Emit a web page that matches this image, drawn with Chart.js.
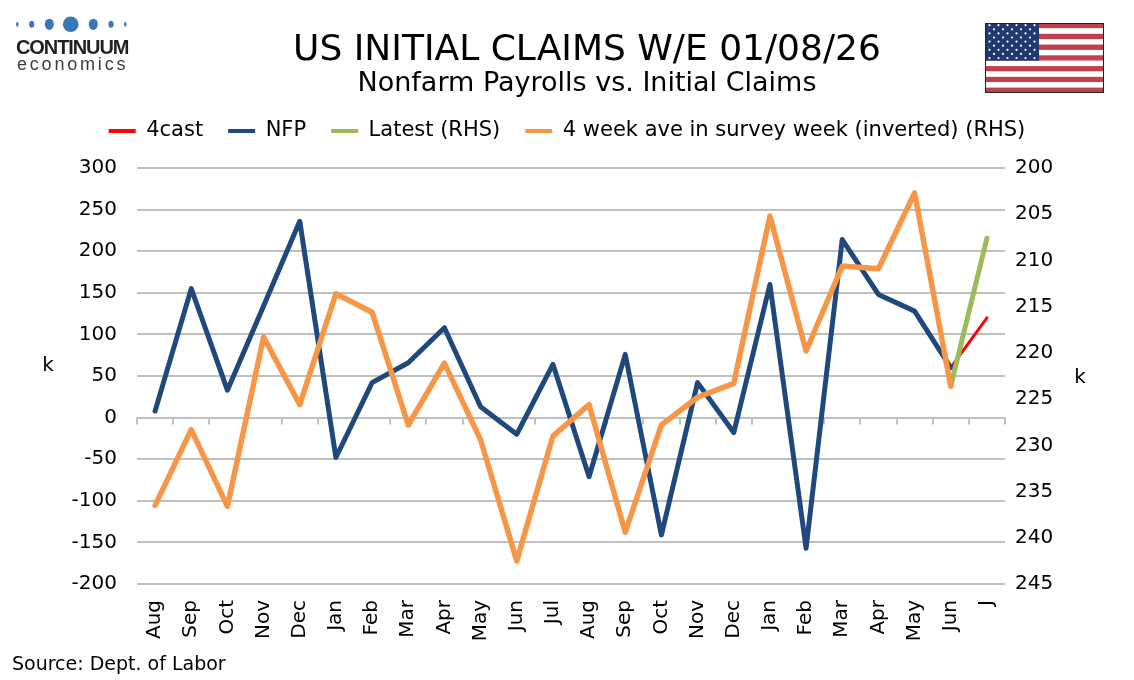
<!DOCTYPE html>
<html>
<head>
<meta charset="utf-8">
<title>US Initial Claims W/E 01/08/26</title>
<script src="https://cdn.jsdelivr.net/npm/chart.js@4.4.1/dist/chart.umd.min.js"></script>
<style>
  html, body { margin: 0; padding: 0; background: #fff; }
  #wrap { position: relative; width: 1134px; height: 680px; overflow: hidden; font-family: 'DejaVu Sans', sans-serif; color: #000; }
  #chart { position: absolute; left: 0; top: 0; }
  .title { position: absolute; left: 40px; width: 1094px; top: 26px; text-align: center; font-size: 36px; line-height: 44px; white-space: nowrap; }
  .subtitle { position: absolute; left: 40px; width: 1094px; top: 66px; text-align: center; font-size: 27px; line-height: 32px; white-space: nowrap; }
  .logo-name { position: absolute; left: 16px; top: 37px; font-family: 'Liberation Sans', Arial, sans-serif; font-weight: bold; font-size: 20px; line-height: 20px; letter-spacing: -1.1px; color: #231f20; }
  .logo-sub { position: absolute; left: 17px; top: 55px; font-family: 'Liberation Sans', Arial, sans-serif; font-size: 18px; line-height: 18px; letter-spacing: 2.8px; color: #3c3c3c; }
  .source { position: absolute; left: 12px; top: 652px; font-size: 19px; line-height: 22px; }
  svg { position: absolute; }
</style>
</head>
<body>
<div id="wrap">
  <canvas id="chart" width="1134" height="680"></canvas>

  <div class="title">US INITIAL CLAIMS W/E 01/08/26</div>
  <div class="subtitle">Nonfarm Payrolls vs. Initial Claims</div>

  <!-- logo -->
  <svg style="left:0;top:14px" width="140" height="22">
    <g fill="#3a78b5">
      <ellipse cx="17.3" cy="10.3" rx="1.2" ry="2.5"/>
      <ellipse cx="31.7" cy="10.3" rx="2.6" ry="3.5"/>
      <ellipse cx="49.3" cy="10.3" rx="4.5" ry="5.6"/>
      <ellipse cx="70.7" cy="10.3" rx="7.8" ry="7.8"/>
      <ellipse cx="93.3" cy="10.3" rx="4.5" ry="5.6"/>
      <ellipse cx="111" cy="10.3" rx="2.6" ry="3.5"/>
      <ellipse cx="125.3" cy="10.3" rx="1.2" ry="2.5"/>
    </g>
  </svg>
  <div class="logo-name">CONTINUUM</div>
  <div class="logo-sub">economics</div>

  <!-- flag -->
  <svg id="flag" style="left:985px;top:23px" width="119" height="70" viewBox="0 0 119 70"></svg>

  <div class="source">Source: Dept. of Labor</div>
</div>

<script>
// months on the x axis (last one is cut off in the original)
var categories = ['Aug','Sep','Oct','Nov','Dec','Jan','Feb','Mar','Apr','May','Jun','Jul',
                  'Aug','Sep','Oct','Nov','Dec','Jan','Feb','Mar','Apr','May','Jun','J'];

// non-farm payrolls, k (LHS)
var nfp = [8, 155, 33, 134, 236, -48, 42, 66, 108, 13, -20, 64,
           -71, 76, -141, 42, -18, 160, -157, 214, 148, 128, 60, null];

// forecast for the next payroll, k (LHS)
var forecast = [null, null, null, null, null, null, null, null, null, null, null, null,
                null, null, null, null, null, null, null, null, null, null, 60, 120];

// latest initial claims, k (RHS)
var latest = [null, null, null, null, null, null, null, null, null, null, null, null,
              null, null, null, null, null, null, null, null, null, null, 223.6, 207.6];

// 4 week average in survey week, k (RHS, inverted)
var claimsAvg = [236.5, 228.3, 236.6, 218.3, 225.6, 213.6, 215.6, 227.8, 221.1, 229.4, 242.5, 229.0,
                 225.6, 239.4, 227.8, 224.8, 223.3, 205.2, 219.8, 210.6, 210.9, 202.7, 223.6, null];

var leftTicks = [300, 250, 200, 150, 100, 50, 0, -50, -100, -150, -200];
var rightTicks = [200, 205, 210, 215, 220, 225, 230, 235, 240, 245];

// draw the flag
var flag = document.getElementById('flag');
var svgNS = 'http://www.w3.org/2000/svg';
function el(name, attrs) {
  var e = document.createElementNS(svgNS, name);
  for (var k in attrs) e.setAttribute(k, attrs[k]);
  flag.appendChild(e);
  return e;
}
var sh = 70 / 13;
for (var i = 0; i < 13; i++) {
  el('rect', {x: 0, y: i * sh, width: 119, height: sh + 0.05, fill: i % 2 ? '#ffffff' : '#c0404c'});
}
el('rect', {x: 0, y: 0, width: 54, height: sh * 7, fill: '#22396e'});
for (var r = 0; r < 9; r++) {
  var n = r % 2 ? 5 : 6;
  for (var c = 0; c < n; c++) {
    var cx = (r % 2 ? 9 : 4.5) + c * 9;
    el('circle', {cx: cx, cy: 2.2 + r * 4.1, r: 1.1, fill: '#ffffff'});
  }
}
el('rect', {x: 0.5, y: 0.5, width: 118, height: 69, fill: 'none', stroke: '#222', 'stroke-width': 1});

Chart.defaults.font.family = "'DejaVu Sans', sans-serif";
Chart.defaults.color = '#000';

// small tick marks along the zero line, plus the "k" unit labels
var axisExtras = {
  id: 'axisExtras',
  beforeDatasetsDraw: function(chart) {
    var ctx = chart.ctx, x = chart.scales.x, y = chart.scales.y;
    var y0 = y.getPixelForValue(0);
    var step = (x.right - x.left) / categories.length;
    ctx.save();
    ctx.strokeStyle = '#bfbfbf';
    ctx.lineWidth = 2;
    for (var i = 0; i <= categories.length; i++) {
      var px = Math.round(x.left + i * step);
      ctx.beginPath();
      ctx.moveTo(px, y0);
      ctx.lineTo(px, y0 + 7);
      ctx.stroke();
    }
    ctx.restore();
  },
  afterDraw: function(chart) {
    var ctx = chart.ctx;
    ctx.save();
    ctx.font = "20px 'DejaVu Sans'";
    ctx.fillStyle = '#000';
    ctx.textAlign = 'center';
    ctx.textBaseline = 'middle';
    ctx.fillText('k', 48, 366);
    ctx.fillText('k', 1080, 378);
    ctx.restore();
  }
};

new Chart(document.getElementById('chart'), {
  type: 'line',
  data: {
    labels: categories,
    datasets: [{
      label: '4cast',
      data: forecast,
      borderColor: '#ff0000',
      backgroundColor: '#ff0000',
      borderWidth: 3,
      xAxisID: 'x',
      yAxisID: 'y',
      order: 3
    }, {
      label: 'NFP',
      data: nfp,
      borderColor: '#1f497d',
      backgroundColor: '#1f497d',
      borderWidth: 5,
      xAxisID: 'x',
      yAxisID: 'y',
      order: 2
    }, {
      label: 'Latest (RHS)',
      data: latest,
      borderColor: '#9bbb59',
      backgroundColor: '#9bbb59',
      borderWidth: 5,
      xAxisID: 'x',
      yAxisID: 'y1',
      order: 1
    }, {
      label: '4 week ave in survey week (inverted) (RHS)',
      data: claimsAvg,
      borderColor: '#f79646',
      backgroundColor: '#f79646',
      borderWidth: 5.5,
      xAxisID: 'x',
      yAxisID: 'y1',
      order: 0
    }]
  },
  options: {
    responsive: false,
    animation: false,
    events: [],
    layout: { padding: { left: 0, right: 0, top: 95.5, bottom: 0 } },
    elements: {
      point: { radius: 0 },
      line: { tension: 0, borderJoinStyle: 'round', borderCapStyle: 'round' }
    },
    plugins: {
      tooltip: { enabled: false },
      legend: {
        position: 'top',
        labels: {
          font: { size: 21 },
          color: '#000',
          boxWidth: 27,
          boxHeight: 4,
          padding: 25,
          sort: function(a, b) { return a.datasetIndex - b.datasetIndex; },
          generateLabels: function(chart) {
            return Chart.defaults.plugins.legend.labels.generateLabels(chart).map(function(item) {
              item.fillStyle = item.strokeStyle;
              item.lineWidth = 0;
              return item;
            });
          }
        }
      }
    },
    scales: {
      gap: {
        type: 'linear',
        position: 'top',
        display: true,
        grid: { display: false, drawTicks: false },
        border: { display: false },
        ticks: { display: false },
        afterFit: function(s) { s.height = 16.5; }
      },
      x: {
        type: 'category',
        offset: true,
        grid: { display: false, drawTicks: false },
        border: { display: false },
        ticks: { autoSkip: false, minRotation: 90, maxRotation: 90, padding: 16, font: { size: 20 } },
        afterFit: function(s) { s.height = 96; }
      },
      y: {
        position: 'left',
        min: Math.min.apply(null, leftTicks),
        max: Math.max.apply(null, leftTicks),
        grid: { color: '#bfbfbf', lineWidth: 2, drawTicks: false },
        border: { display: false },
        ticks: { stepSize: leftTicks[0] - leftTicks[1], padding: 20, font: { size: 20 } },
        afterFit: function(s) { s.width = 137; }
      },
      y1: {
        position: 'right',
        reverse: true,
        min: Math.min.apply(null, rightTicks),
        max: Math.max.apply(null, rightTicks),
        grid: { drawOnChartArea: false, drawTicks: false },
        border: { display: false },
        ticks: { stepSize: rightTicks[1] - rightTicks[0], padding: 10, font: { size: 20 } },
        afterFit: function(s) { s.width = 129; }
      }
    }
  },
  plugins: [axisExtras]
});
</script>
</body>
</html>
